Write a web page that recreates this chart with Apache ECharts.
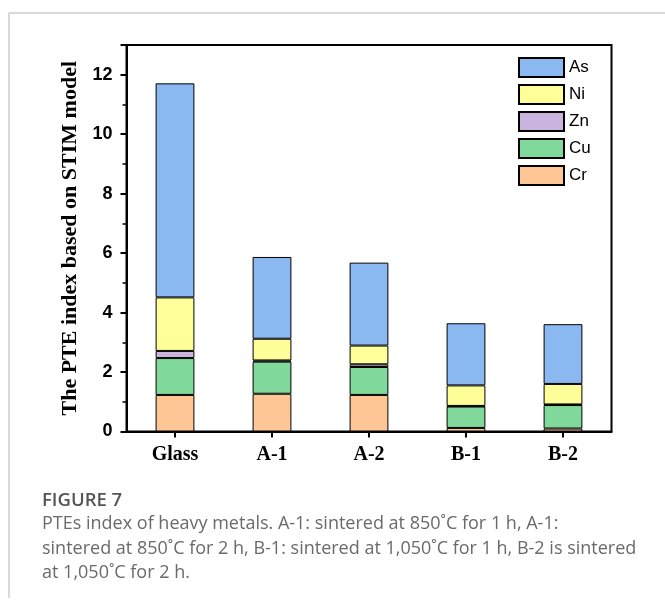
<!DOCTYPE html>
<html>
<head>
<meta charset="utf-8">
<script src="https://cdn.jsdelivr.net/npm/echarts@6/dist/echarts.min.js"></script>
<style>
  html, body { margin: 0; padding: 0; background: #fff; }
  #chart { width: 665px; height: 601px; }
</style>
</head>
<body>
<div id="chart"></div>
<script>
// Samples and the stacked PTE index contribution of each metal
const categories = ['Glass', 'A-1', 'A-2', 'B-1', 'B-2'];
const crValues = [1.23, 1.27, 1.23, 0.12, 0.10];
const cuValues = [1.24, 1.08, 0.94, 0.72, 0.79];
const znValues = [0.24, 0.04, 0.09, 0.02, 0.02];
const niValues = [1.80, 0.73, 0.63, 0.69, 0.69];
const asValues = [7.20, 2.75, 2.79, 2.09, 2.01];
const legendOrder = ['As', 'Ni', 'Zn', 'Cu', 'Cr'];
const yTicks = [0, 2, 4, 6, 8, 10, 12];

const captionTitle = 'FIGURE 7';
const captionLines = [
  'PTEs index of heavy metals. A-1: sintered at 850˚C for 1 h, A-1:',
  'sintered at 850˚C for 2 h, B-1: sintered at 1,050˚C for 1 h, B-2 is sintered',
  'at 1,050˚C for 2 h.'
];

const colors = {
  Cr: '#fec695',
  Cu: '#80d99b',
  Zn: '#c8b4dc',
  Ni: '#ffff99',
  As: '#8ab9f2'
};

function barSeries(name, values) {
  return {
    name: name,
    type: 'bar',
    stack: 'pte',
    barWidth: '40%',
    data: values,
    itemStyle: { color: colors[name], borderColor: '#000', borderWidth: 1 },
    emphasis: { disabled: true }
  };
}

const chart = echarts.init(document.getElementById('chart'), null, { renderer: 'canvas' });

chart.setOption({
  animation: false,
  backgroundColor: '#fff',
  grid: {
    left: 126.5, top: 45, right: 53.5, bottom: 169.5,
    show: true, borderColor: '#000', borderWidth: 2, backgroundColor: 'transparent'
  },
  legend: {
    data: legendOrder,
    orient: 'vertical',
    left: 518, top: 57, padding: 0,
    itemWidth: 45, itemHeight: 19, itemGap: 6,
    icon: 'rect',
    selectedMode: false,
    textStyle: { fontFamily: 'Liberation Sans', fontSize: 17, color: '#000' }
  },
  xAxis: {
    type: 'category',
    data: categories,
    axisLine: { show: true, lineStyle: { color: '#000', width: 2 } },
    axisTick: { show: true, alignWithLabel: true, length: 6, lineStyle: { color: '#000', width: 2 } },
    axisLabel: {
      margin: 13,
      fontFamily: 'Liberation Serif', fontWeight: 'bold', fontSize: 20, color: '#000'
    },
    splitLine: { show: false }
  },
  yAxis: {
    type: 'value',
    min: yTicks[0], max: 13, interval: yTicks[1] - yTicks[0],
    name: 'The PTE index based on STIM model',
    nameLocation: 'middle',
    nameGap: 40,
    nameTextStyle: { fontFamily: 'Liberation Serif', fontWeight: 'bold', fontSize: 22, color: '#000' },
    axisLine: { show: true, lineStyle: { color: '#000', width: 2 } },
    axisTick: { show: true, length: 6, lineStyle: { color: '#000', width: 2 } },
    minorTick: { show: true, splitNumber: 2, length: 4, lineStyle: { color: '#000', width: 1.5 } },
    axisLabel: {
      margin: 14, showMaxLabel: false,
      fontFamily: 'Liberation Sans', fontWeight: 'bold', fontSize: 18, color: '#000',
      formatter: v => (yTicks.indexOf(v) >= 0 ? String(v) : '')
    },
    splitLine: { show: false }
  },
  series: [
    barSeries('Cr', crValues),
    barSeries('Cu', cuValues),
    barSeries('Zn', znValues),
    barSeries('Ni', niValues),
    barSeries('As', asValues)
  ],
  graphic: [
    // card outline along the top and left edge
    { type: 'line', silent: true, shape: { x1: 9, y1: 13, x2: 665, y2: 13 }, style: { stroke: '#cccccc', lineWidth: 1.5 } },
    { type: 'line', silent: true, shape: { x1: 9, y1: 13, x2: 9, y2: 598 }, style: { stroke: '#cccccc', lineWidth: 1.5 } },
    {
      type: 'text', left: 42, top: 491, silent: true,
      style: { text: captionTitle, fill: '#555555', font: '600 18.5px "Open Sans"' }
    },
    {
      type: 'text', left: 42, top: 512, silent: true,
      style: {
        text: captionLines.join('\n'), fill: '#6a6a6a',
        font: '18px "Open Sans"', lineHeight: 24.5
      }
    }
  ]
});
</script>
</body>
</html>
